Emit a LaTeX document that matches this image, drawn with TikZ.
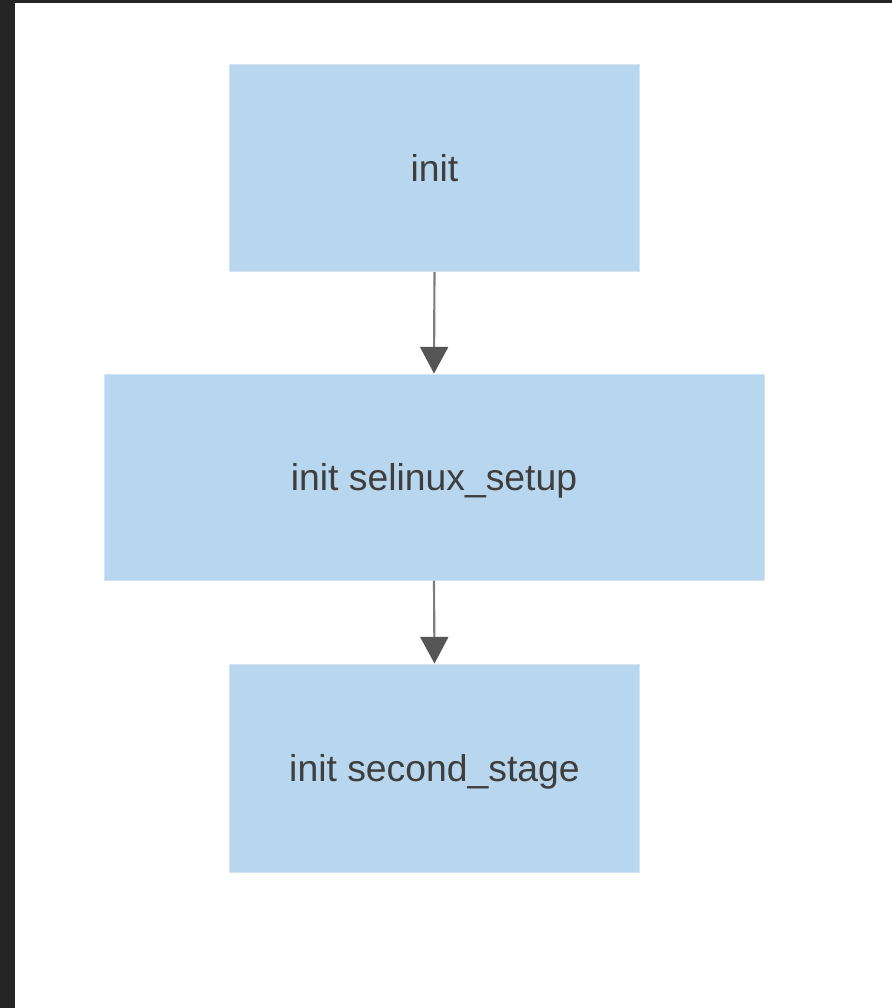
\documentclass[tikz,border=0pt]{standalone}
\usepackage{fontspec}
\setmainfont{Liberation Sans}
\usetikzlibrary{arrows.meta}
\definecolor{boxfill}{HTML}{B8D7EE}
\definecolor{boxedge}{HTML}{D2E5F4}
\definecolor{txt}{HTML}{3E3E3E}
\definecolor{linec}{HTML}{7C7C7C}
\definecolor{headc}{HTML}{555555}
\definecolor{frame}{HTML}{252525}
\tikzset{
  flowbox/.style={rectangle, fill=boxfill, draw=boxedge, line width=0.75pt, text=txt,
    font=\fontsize{28}{34}\selectfont, inner sep=0pt, text depth=0pt},
  flowarrow/.style={draw=linec, line width=1.6pt,
    -{Triangle[length=20pt,width=21pt,color=headc,fill=headc]}}
}
\begin{document}
\begin{tikzpicture}[x=0.75pt,y=-0.75pt]
\fill[frame] (0,0) rectangle (892,1008);
\fill[white] (15,3) rectangle (892,1008);
\useasboundingbox (0,0) rectangle (892,1008);
\node[flowbox, minimum width=410*0.75pt, minimum height=207*0.75pt] (a) at (434.5,168) {init};
\node[flowbox, minimum width=660*0.75pt, minimum height=206*0.75pt] (b) at (434,477) {init selinux\_setup};
\node[flowbox, minimum width=410*0.75pt, minimum height=208*0.75pt] (c) at (434.5,768) {init second\_stage};
\draw[flowarrow] (a.south) -- (b.north);
\draw[flowarrow] (b.south) -- (c.north);
\end{tikzpicture}
\end{document}
